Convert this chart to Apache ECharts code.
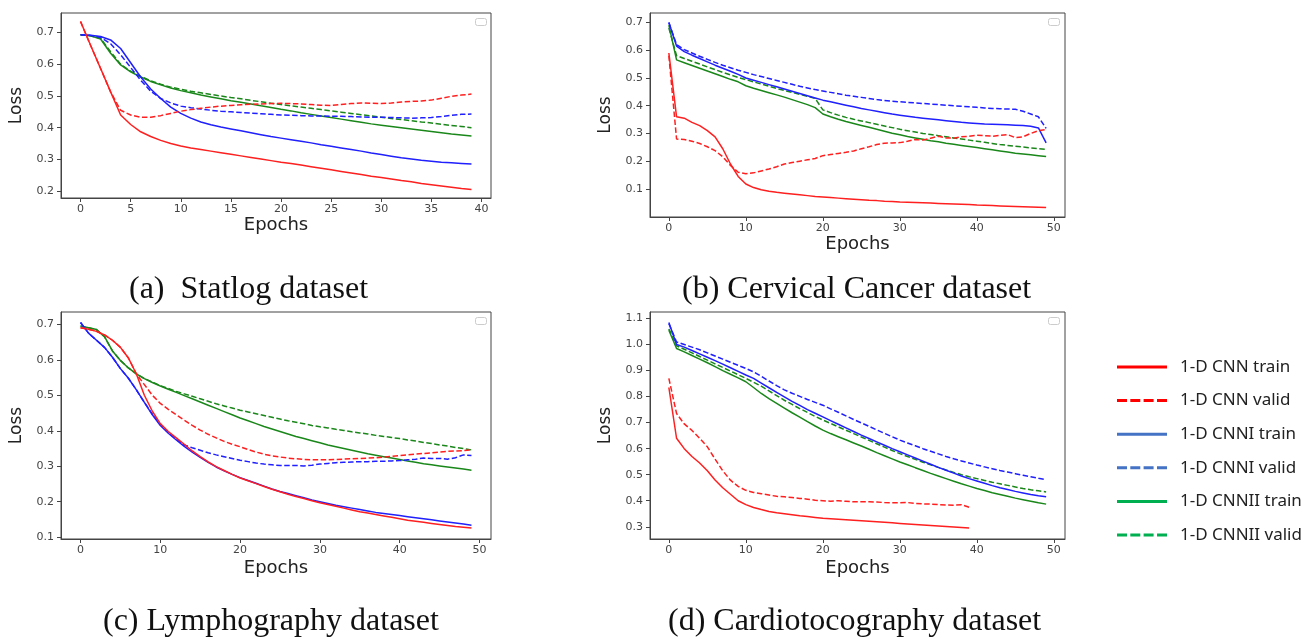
<!DOCTYPE html>
<html>
<head>
<meta charset="utf-8">
<script src="https://cdn.jsdelivr.net/npm/echarts@6/dist/echarts.min.js"></script>
<style>
  html, body { margin: 0; padding: 0; background: #fff; }
  #chart { width: 1314px; height: 639px; }
</style>
</head>
<body>
<div id="chart"></div>
<script>
// series names (legend order)
const names = ['1-D CNN train', '1-D CNN valid', '1-D CNNI train', '1-D CNNI valid', '1-D CNNII train', '1-D CNNII valid'];
const captions = ['(a)  Statlog dataset', '(b) Cervical Cancer dataset', '(c) Lymphography dataset', '(d) Cardiotocography dataset'];

// tick labels
const xTicksA = [0, 5, 10, 15, 20, 25, 30, 35, 40];
const xTicksB = [0, 10, 20, 30, 40, 50];
const yTicksA = [0.2, 0.3, 0.4, 0.5, 0.6, 0.7];
const yTicksB = [0.1, 0.2, 0.3, 0.4, 0.5, 0.6, 0.7];
const yTicksC = [0.1, 0.2, 0.3, 0.4, 0.5, 0.6, 0.7];
const yTicksD = [0.3, 0.4, 0.5, 0.6, 0.7, 0.8, 0.9, 1.0, 1.1];

// (a) Statlog, epochs 0..39
const aRedTrain = [0.735,0.66,0.587,0.513,0.44,0.41,0.387,0.372,0.36,0.35,0.342,0.336,0.331,0.326,0.321,0.316,0.311,0.306,0.301,0.296,0.291,0.287,0.282,0.277,0.272,0.267,0.262,0.257,0.252,0.247,0.243,0.238,0.233,0.229,0.224,0.22,0.216,0.212,0.208,0.205];
const aRedValid = [0.735,0.66,0.587,0.513,0.455,0.44,0.433,0.433,0.438,0.445,0.452,0.457,0.461,0.465,0.468,0.47,0.472,0.474,0.475,0.476,0.477,0.476,0.475,0.473,0.471,0.47,0.473,0.476,0.478,0.477,0.476,0.478,0.481,0.483,0.484,0.487,0.493,0.499,0.503,0.506];
const aBlueTrain = [0.693,0.692,0.688,0.677,0.65,0.605,0.56,0.522,0.492,0.465,0.445,0.43,0.418,0.409,0.402,0.396,0.39,0.384,0.378,0.372,0.367,0.362,0.357,0.352,0.346,0.341,0.336,0.331,0.326,0.32,0.315,0.31,0.305,0.301,0.297,0.294,0.291,0.289,0.287,0.285];
const aBlueValid = [0.693,0.691,0.685,0.665,0.63,0.59,0.55,0.515,0.492,0.478,0.468,0.463,0.459,0.455,0.452,0.45,0.448,0.446,0.444,0.442,0.44,0.439,0.438,0.437,0.437,0.436,0.436,0.435,0.434,0.433,0.433,0.432,0.431,0.43,0.431,0.432,0.435,0.439,0.442,0.443];
const aGreenTrain = [0.693,0.69,0.68,0.635,0.598,0.576,0.56,0.546,0.535,0.525,0.517,0.51,0.503,0.497,0.491,0.485,0.48,0.475,0.469,0.464,0.458,0.453,0.447,0.442,0.437,0.432,0.427,0.422,0.417,0.412,0.408,0.404,0.4,0.396,0.392,0.388,0.384,0.38,0.377,0.374];
const aGreenValid = [0.693,0.69,0.682,0.64,0.6,0.578,0.562,0.548,0.537,0.528,0.521,0.515,0.51,0.505,0.5,0.495,0.491,0.486,0.482,0.477,0.473,0.469,0.465,0.461,0.457,0.453,0.449,0.445,0.441,0.437,0.433,0.429,0.426,0.422,0.418,0.415,0.411,0.407,0.404,0.4];

// (b) Cervical Cancer, epochs 0..49
const bRedTrain = [0.59,0.36,0.355,0.34,0.328,0.31,0.288,0.245,0.19,0.145,0.118,0.105,0.097,0.092,0.088,0.085,0.082,0.079,0.076,0.073,0.071,0.069,0.067,0.065,0.063,0.061,0.059,0.058,0.056,0.055,0.053,0.052,0.051,0.05,0.049,0.048,0.047,0.046,0.045,0.044,0.042,0.041,0.04,0.039,0.038,0.037,0.036,0.035,0.034,0.033];
const bRedValid = [0.58,0.28,0.278,0.272,0.264,0.252,0.238,0.216,0.185,0.16,0.155,0.158,0.165,0.172,0.18,0.19,0.195,0.2,0.205,0.21,0.22,0.224,0.228,0.232,0.237,0.245,0.252,0.26,0.265,0.266,0.267,0.272,0.278,0.276,0.283,0.29,0.284,0.283,0.288,0.29,0.294,0.292,0.29,0.293,0.296,0.285,0.288,0.3,0.31,0.314];
const bBlueTrain = [0.7,0.615,0.595,0.582,0.57,0.558,0.546,0.535,0.524,0.513,0.5,0.492,0.484,0.476,0.468,0.46,0.452,0.444,0.436,0.428,0.42,0.414,0.408,0.402,0.396,0.39,0.385,0.38,0.375,0.37,0.366,0.362,0.358,0.355,0.352,0.349,0.346,0.343,0.34,0.338,0.336,0.334,0.333,0.332,0.331,0.33,0.329,0.326,0.32,0.266];
const bBlueValid = [0.7,0.62,0.602,0.59,0.578,0.567,0.556,0.546,0.537,0.528,0.52,0.512,0.505,0.498,0.491,0.484,0.477,0.47,0.464,0.458,0.453,0.448,0.443,0.438,0.434,0.43,0.426,0.422,0.419,0.416,0.414,0.412,0.41,0.408,0.406,0.404,0.402,0.4,0.398,0.396,0.394,0.392,0.39,0.389,0.388,0.387,0.38,0.37,0.36,0.318];
const bGreenTrain = [0.69,0.565,0.555,0.545,0.535,0.525,0.515,0.505,0.495,0.486,0.472,0.463,0.455,0.447,0.439,0.431,0.422,0.413,0.404,0.393,0.37,0.36,0.351,0.343,0.336,0.329,0.322,0.315,0.308,0.301,0.295,0.289,0.284,0.279,0.274,0.27,0.265,0.261,0.257,0.253,0.249,0.245,0.241,0.237,0.233,0.229,0.226,0.223,0.22,0.217];
const bGreenValid = [0.68,0.58,0.57,0.56,0.55,0.54,0.53,0.52,0.511,0.502,0.494,0.486,0.478,0.47,0.462,0.455,0.448,0.441,0.434,0.426,0.385,0.375,0.366,0.358,0.351,0.345,0.339,0.333,0.327,0.321,0.315,0.31,0.305,0.3,0.296,0.292,0.288,0.284,0.28,0.276,0.272,0.268,0.264,0.26,0.257,0.254,0.251,0.248,0.245,0.243];

// (c) Lymphography, epochs 0..49
const cRedTrain = [0.69,0.686,0.68,0.67,0.655,0.635,0.605,0.56,0.5,0.455,0.42,0.398,0.38,0.362,0.343,0.327,0.312,0.299,0.288,0.277,0.267,0.259,0.251,0.243,0.235,0.228,0.221,0.215,0.209,0.203,0.197,0.192,0.187,0.182,0.177,0.172,0.168,0.164,0.16,0.156,0.152,0.148,0.145,0.142,0.139,0.136,0.133,0.13,0.128,0.126];
const cRedValid = [0.69,0.686,0.68,0.67,0.655,0.635,0.605,0.56,0.53,0.5,0.477,0.46,0.445,0.43,0.415,0.402,0.39,0.38,0.37,0.362,0.355,0.347,0.34,0.334,0.329,0.326,0.323,0.321,0.319,0.318,0.318,0.318,0.319,0.32,0.321,0.322,0.323,0.324,0.326,0.328,0.33,0.332,0.334,0.336,0.338,0.34,0.342,0.343,0.344,0.346];
const cBlueTrain = [0.705,0.675,0.655,0.635,0.607,0.575,0.548,0.515,0.48,0.445,0.415,0.393,0.374,0.356,0.34,0.325,0.311,0.298,0.287,0.277,0.268,0.26,0.252,0.244,0.236,0.229,0.223,0.217,0.211,0.205,0.2,0.195,0.19,0.186,0.182,0.178,0.174,0.17,0.167,0.164,0.161,0.158,0.155,0.152,0.149,0.146,0.143,0.14,0.137,0.134];
const cBlueValid = [0.705,0.675,0.655,0.635,0.607,0.575,0.548,0.515,0.48,0.447,0.418,0.395,0.376,0.36,0.352,0.345,0.338,0.332,0.327,0.322,0.317,0.313,0.309,0.306,0.304,0.302,0.302,0.302,0.301,0.303,0.306,0.308,0.31,0.311,0.312,0.313,0.313,0.314,0.314,0.315,0.316,0.318,0.32,0.323,0.322,0.322,0.32,0.324,0.332,0.33];
const cGreenTrain = [0.695,0.69,0.685,0.665,0.625,0.598,0.577,0.56,0.547,0.536,0.526,0.517,0.508,0.499,0.49,0.481,0.472,0.463,0.454,0.445,0.436,0.428,0.42,0.412,0.405,0.398,0.391,0.384,0.378,0.372,0.366,0.36,0.355,0.35,0.345,0.34,0.335,0.331,0.327,0.323,0.319,0.315,0.311,0.307,0.304,0.301,0.298,0.295,0.292,0.289];
const cGreenValid = [0.695,0.69,0.685,0.665,0.625,0.598,0.577,0.56,0.547,0.537,0.527,0.519,0.511,0.504,0.497,0.49,0.483,0.476,0.47,0.464,0.458,0.453,0.448,0.443,0.438,0.433,0.428,0.424,0.42,0.415,0.411,0.408,0.404,0.401,0.397,0.394,0.391,0.387,0.384,0.381,0.378,0.374,0.371,0.367,0.364,0.36,0.357,0.353,0.35,0.346];

// (d) Cardiotocography, epochs 0..49 (1-D CNN stops at 39)
const dRedTrain = [0.835,0.64,0.6,0.57,0.545,0.515,0.48,0.45,0.425,0.4,0.385,0.374,0.366,0.359,0.354,0.35,0.346,0.342,0.339,0.336,0.333,0.331,0.329,0.327,0.325,0.323,0.321,0.319,0.317,0.315,0.313,0.311,0.309,0.307,0.305,0.303,0.301,0.299,0.297,0.295];
const dRedValid = [0.87,0.735,0.695,0.67,0.64,0.607,0.56,0.515,0.479,0.455,0.44,0.432,0.427,0.422,0.417,0.415,0.412,0.409,0.406,0.402,0.4,0.398,0.4,0.398,0.396,0.396,0.396,0.395,0.393,0.392,0.392,0.393,0.39,0.388,0.387,0.385,0.384,0.383,0.385,0.375];
const dBlueTrain = [1.085,1.0,0.99,0.977,0.964,0.951,0.938,0.925,0.911,0.897,0.883,0.87,0.852,0.834,0.816,0.799,0.782,0.766,0.75,0.736,0.722,0.708,0.694,0.68,0.666,0.652,0.639,0.626,0.613,0.6,0.588,0.576,0.564,0.552,0.54,0.528,0.517,0.506,0.495,0.485,0.476,0.467,0.458,0.45,0.443,0.436,0.43,0.424,0.419,0.415];
const dBlueValid = [1.08,1.01,1.0,0.99,0.98,0.968,0.956,0.944,0.932,0.92,0.908,0.895,0.878,0.86,0.842,0.826,0.813,0.801,0.789,0.778,0.767,0.753,0.74,0.726,0.712,0.699,0.686,0.672,0.659,0.646,0.633,0.622,0.611,0.6,0.59,0.58,0.57,0.561,0.553,0.545,0.537,0.53,0.523,0.516,0.51,0.504,0.498,0.492,0.486,0.481];
const dGreenTrain = [1.055,0.985,0.972,0.958,0.944,0.93,0.915,0.9,0.886,0.872,0.857,0.835,0.812,0.792,0.774,0.756,0.738,0.721,0.704,0.687,0.671,0.658,0.646,0.634,0.622,0.61,0.598,0.585,0.573,0.561,0.549,0.538,0.527,0.516,0.505,0.495,0.485,0.475,0.465,0.456,0.447,0.439,0.431,0.424,0.417,0.41,0.404,0.398,0.392,0.387];
const dGreenValid = [1.06,0.995,0.982,0.968,0.954,0.94,0.926,0.912,0.898,0.884,0.87,0.855,0.84,0.822,0.804,0.786,0.77,0.754,0.739,0.724,0.71,0.697,0.684,0.671,0.658,0.645,0.632,0.619,0.606,0.593,0.581,0.57,0.559,0.548,0.538,0.528,0.518,0.509,0.5,0.492,0.485,0.478,0.471,0.465,0.459,0.453,0.447,0.442,0.438,0.434];

const panels = [
  [aRedTrain, aRedValid, aBlueTrain, aBlueValid, aGreenTrain, aGreenValid],
  [bRedTrain, bRedValid, bBlueTrain, bBlueValid, bGreenTrain, bGreenValid],
  [cRedTrain, cRedValid, cBlueTrain, cBlueValid, cGreenTrain, cGreenValid],
  [dRedTrain, dRedValid, dBlueTrain, dBlueValid, dGreenTrain, dGreenValid]
];

const lineColors = ['#ff1f1f', '#ff1f1f', '#1f1fff', '#1f1fff', '#1a871a', '#1a871a'];
const legendColors = ['#ff0000', '#ff0000', '#4472c4', '#4472c4', '#00b050', '#00b050'];

const grids = [
  { left: 61, top: 13, width: 430, height: 185 },
  { left: 650, top: 13, width: 415, height: 204 },
  { left: 61, top: 312, width: 430, height: 227 },
  { left: 650, top: 312, width: 415, height: 227 }
];
const xRanges = [[-1.95, 40.95], [-2.45, 51.45], [-2.45, 51.45], [-2.45, 51.45]];
const yRanges = [[0.178, 0.762], [-0.001, 0.734], [0.095, 0.7346], [0.253, 1.125]];
const xTicks = [xTicksA, xTicksB, xTicksB, xTicksB];
const yTicks = [yTicksA, yTicksB, yTicksC, yTicksD];
const epochsGap = [15, 17, 20, 20];

const tickFont = { fontFamily: 'DejaVu Sans', fontSize: 11, color: '#444' };

// legend icons: thick solid bar or four dashes
const solidIcon = 'path://M0,0h50v3h-50z';
const dashIcon = 'path://M0,0h10v3h-10z M13.3,0h10v3h-10z M26.6,0h10v3h-10z M40,0h10v3h-10z';

const chart = echarts.init(document.getElementById('chart'));

const xAxis = grids.map((g, i) => ({
  type: 'value', gridIndex: i, min: xRanges[i][0], max: xRanges[i][1],
  axisLine: { onZero: false, lineStyle: { color: '#444', width: 1 } },
  axisTick: { customValues: xTicks[i], length: 4, lineStyle: { color: '#444' } },
  axisLabel: Object.assign({ customValues: xTicks[i], margin: 6 }, tickFont),
  splitLine: { show: false },
  name: 'Epochs', nameLocation: 'middle', nameGap: epochsGap[i],
  nameTextStyle: { fontFamily: 'DejaVu Sans', fontSize: 18, color: '#222' }
}));

const yAxis = grids.map((g, i) => ({
  type: 'value', gridIndex: i, min: yRanges[i][0], max: yRanges[i][1],
  axisLine: { onZero: false, lineStyle: { color: '#444', width: 1 } },
  axisTick: { customValues: yTicks[i], length: 4, lineStyle: { color: '#444' } },
  axisLabel: Object.assign({ customValues: yTicks[i], margin: 7, formatter: v => v.toFixed(1) }, tickFont),
  splitLine: { show: false },
  name: 'Loss', nameLocation: 'middle', nameRotate: 90, nameGap: 36,
  nameTextStyle: { fontFamily: 'DejaVu Sans', fontSize: 17, color: '#222' }
}));

const series = [];
panels.forEach((arrs, gi) => {
  arrs.forEach((arr, k) => {
    series.push({
      name: names[k], type: 'line', xAxisIndex: gi, yAxisIndex: gi,
      data: arr.map((v, ep) => [ep, v]),
      symbol: 'none', smooth: false,
      lineStyle: { color: lineColors[k], width: 1.5, type: k % 2 ? [5.5, 2.5] : 'solid' },
      itemStyle: { color: lineColors[k] },
      z: 10 - k
    });
  });
});

// empty matplotlib legend boxes + captions
const boxPos = [[475, 18], [1048, 18], [475, 317], [1048, 317]];
const capPos = [[129, 290], [682, 290], [103, 622], [668, 622]];
const graphic = [];
boxPos.forEach(p => graphic.push({
  type: 'rect', left: p[0], top: p[1], shape: { width: 11, height: 7, r: 2 },
  style: { fill: '#fff', stroke: '#ccc', lineWidth: 1 }
}));
captions.forEach((t, i) => graphic.push({
  type: 'text', x: capPos[i][0], y: capPos[i][1],
  style: { text: t, fontFamily: 'Liberation Serif', fontSize: 32, fill: '#111', verticalAlign: 'middle' }
}));

chart.setOption({
  animation: false,
  backgroundColor: '#fff',
  grid: grids.map(g => Object.assign({ show: true, borderColor: '#444', borderWidth: 1, containLabel: false }, g)),
  xAxis: xAxis,
  yAxis: yAxis,
  legend: {
    orient: 'vertical', left: 1112, top: 352,
    itemWidth: 50, itemHeight: 3, itemGap: 13.6,
    selectedMode: false,
    textStyle: { fontFamily: 'Noto Sans', fontSize: 17, lineHeight: 20, color: '#222', padding: [0, 0, 0, 8] },
    data: names.map((n, k) => ({
      name: n,
      icon: k % 2 ? dashIcon : solidIcon,
      itemStyle: { color: legendColors[k] }
    }))
  },
  graphic: graphic,
  series: series
});
</script>
</body>
</html>
